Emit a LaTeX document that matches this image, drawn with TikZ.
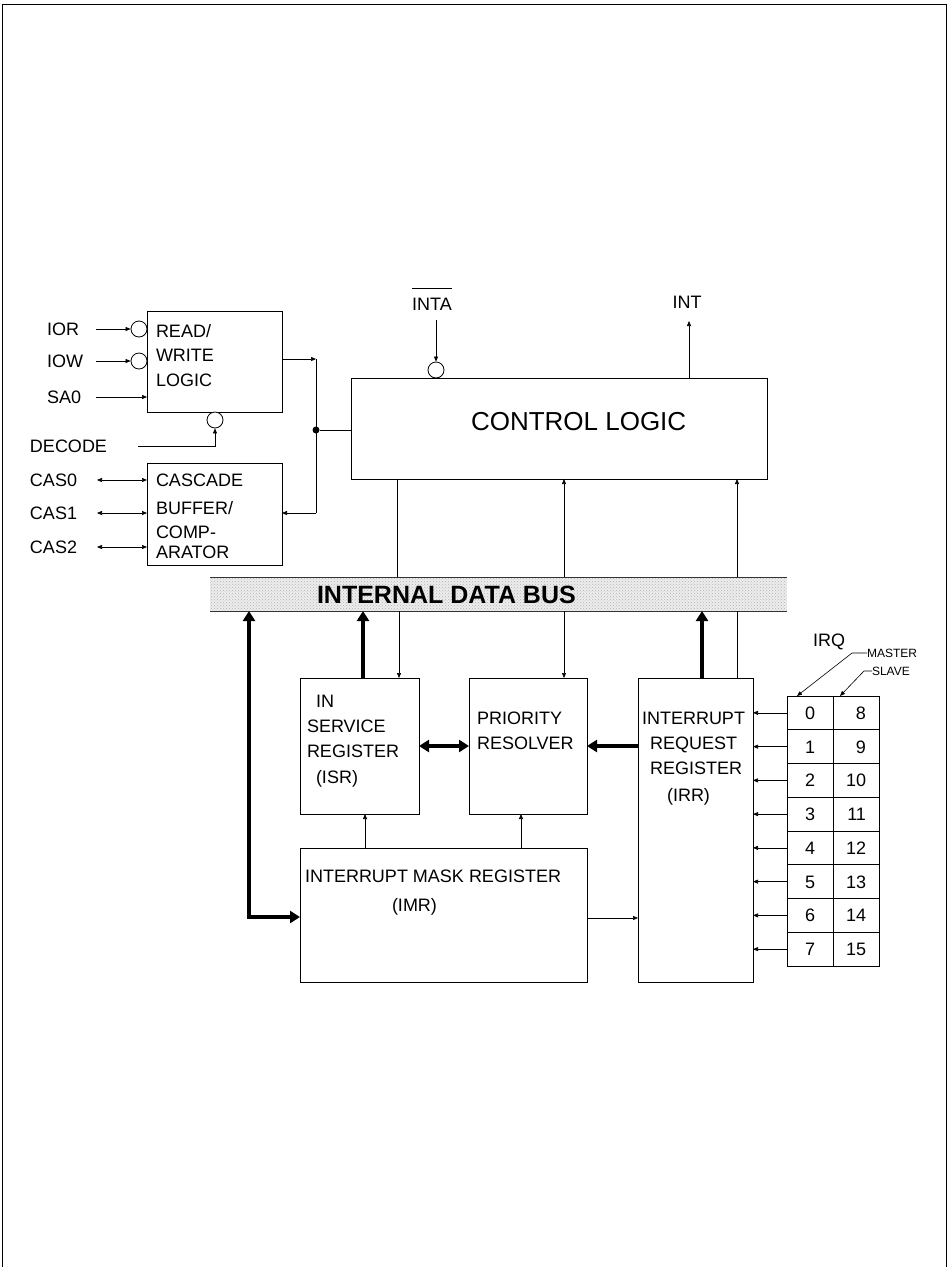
\documentclass[tikz,border=0pt]{standalone}
\usepackage{fontspec}
\setmainfont{Liberation Sans}
\usetikzlibrary{arrows.meta,patterns,calc}
\begin{document}
\begin{tikzpicture}[x=1pt,y=-1pt,
  lab/.style={inner sep=0pt, outer sep=0pt, anchor=west, font=\fontsize{18}{21}\selectfont, text height=12.9pt, text depth=0pt},
  big/.style={inner sep=0pt, outer sep=0pt, anchor=west, font=\fontsize{26}{30}\selectfont, text height=18.6pt, text depth=0pt},
  bustxt/.style={inner sep=0pt, outer sep=0pt, anchor=west, font=\fontsize{25}{30}\selectfont\bfseries, text height=17.9pt, text depth=0pt},
  small/.style={inner sep=0pt, outer sep=0pt, anchor=west, font=\fontsize{12}{14}\selectfont, text height=8.6pt, text depth=0pt},
  box/.style={draw, line width=0.8pt, inner sep=0pt, outer sep=0pt},
  ln/.style={line width=0.6pt},
  arr/.style={line width=0.6pt, -{Triangle[length=5pt,width=4pt]}},
  darr/.style={line width=0.6pt, {Triangle[length=5pt,width=4pt]}-{Triangle[length=5pt,width=4pt]}},
  tarr/.style={line width=4pt, -{Triangle[length=10pt,width=12pt]}},
  tdarr/.style={line width=4pt, {Triangle[length=10pt,width=12pt]}-{Triangle[length=10pt,width=12pt]}},
  bub/.style={circle, draw, line width=0.8pt, minimum size=16pt, inner sep=0pt, fill=white},
  cell/.style={draw, line width=0.8pt, minimum width=46pt, minimum height=33.75pt, inner sep=0pt, outer sep=0pt, font=\fontsize{18}{21}\selectfont, text height=12.9pt, text depth=0pt}
]
\useasboundingbox (0,0) rectangle (951,1267);
% page frame
\draw[line width=0.9pt] (2,1267) -- (2,4) -- (946,4) -- (946,1267);

% ---------------- boxes
\node[box, minimum width=135pt, minimum height=101pt] (rw) at (214.5,361.5) {};
\node[box, minimum width=135pt, minimum height=102pt] (cas) at (214.5,514) {};
\node[box, minimum width=416pt, minimum height=101pt] (ctl) at (559,428.5) {};
\node[box, minimum width=119pt, minimum height=136pt] (isr) at (359.5,746) {};
\node[box, minimum width=118pt, minimum height=136pt] (pr) at (528,746) {};
\node[box, minimum width=287pt, minimum height=134pt] (imr) at (443.5,915) {};
\node[box, minimum width=115pt, minimum height=304pt] (irr) at (695.5,830) {};

% internal data bus
\node[inner sep=0pt, outer sep=0pt, minimum width=577pt, minimum height=34pt,
      preaction={fill=gray!14}, pattern=crosshatch dots, pattern color=gray!60] (bus) at (498.5,594) {};
\draw[line width=0.8pt, gray!40!black] (bus.north west) -- (bus.north east);
\draw[line width=0.8pt, gray!40!black] (bus.south west) -- (bus.south east);
\node[bustxt] (bustext) at (317,595) {INTERNAL DATA BUS};

% ---------------- box texts
\node[lab] (rw1) at (156,331) {READ/};
\node[lab] (rw2) at (156,355) {WRITE};
\node[lab] (rw3) at (156,380) {LOGIC};
\node[lab] (cs1) at (156,480) {CASCADE};
\node[lab] (cs2) at (156,508) {BUFFER/};
\node[lab] (cs3) at (156,532) {COMP-};
\node[lab] (cs4) at (156,552) {ARATOR};
\node[big] (ctltext) at (471,421) {CONTROL LOGIC};
\node[lab] (is1) at (316,701) {IN};
\node[lab] (is2) at (307,726) {SERVICE};
\node[lab] (is3) at (307,751) {REGISTER};
\node[lab] (is4) at (316,777) {(ISR)};
\node[lab] (pr1) at (477,718) {PRIORITY};
\node[lab] (pr2) at (477,743) {RESOLVER};
\node[lab] (im1) at (305,876) {INTERRUPT MASK REGISTER};
\node[lab] (im2) at (392,905) {(IMR)};
\node[lab] (ir1) at (642,718) {INTERRUPT};
\node[lab] (ir2) at (650,743) {REQUEST};
\node[lab] (ir3) at (650,768) {REGISTER};
\node[lab] (ir4) at (667,795) {(IRR)};

% ---------------- left-side signals
\node[lab] (ior) at (47,329) {IOR};
\node[lab] (iow) at (47,361) {IOW};
\node[lab] (sa0) at (47,397) {SA0};
\node[lab] (dec) at (30,446) {DECODE};
\node[lab] (cas0) at (30,480) {CAS0};
\node[lab] (cas1) at (30,513) {CAS1};
\node[lab] (cas2) at (30,547) {CAS2};

\node[bub] (c1) at (139,329) {};
\node[bub] (c2) at (139,361) {};
\node[bub] (c3) at (215,420) {};

\coordinate (ior-s) at (96,329);
\coordinate (iow-s) at (96,361);
\coordinate (sa0-s) at (96,397);
\coordinate (dec-s) at (138,446);
\coordinate (cas0-s) at (97,480);
\coordinate (cas1-s) at (97,513);
\coordinate (cas2-s) at (97,547);

\draw[arr] (ior-s) -- (c1.west);
\draw[arr] (iow-s) -- (c2.west);
\draw[arr] (sa0-s) -- (sa0-s -| rw.west);
\draw[arr] (dec-s) -- (dec-s -| c3.south) -- (c3.south);
\draw[darr] (cas0-s) -- (cas0-s -| cas.west);
\draw[darr] (cas1-s) -- (cas1-s -| cas.west);
\draw[darr] (cas2-s) -- (cas2-s -| cas.west);

% junction between RW / cascade / control
\coordinate (j1) at (316,359);
\coordinate (j2) at (316,513);
\draw[arr] (rw.east |- j1) -- (j1);
\draw[ln] (j1) -- (j2);
\draw[arr] (j2) -- (j2 -| cas.east);
\node[circle, fill, inner sep=0pt, minimum size=7pt] (dot) at (316,430) {};
\draw[ln] (dot) -- (dot -| ctl.west);

% ---------------- INTA / INT
\node[lab, anchor=center] (inta) at (432,304) {INTA};
\draw[line width=0.8pt] ([yshift=9pt]inta.north west) -- ([yshift=9pt]inta.north east);
\node[bub] (c4) at (436,370) {};
\coordinate (inta-s) at (436,320);
\draw[arr] (inta-s) -- (c4.north);
\node[lab, anchor=center] (int) at (687,302) {INT};
\coordinate (int-e) at (689,321);
\draw[arr] (int-e |- ctl.north) -- (int-e);

% ---------------- vertical x positions
\coordinate (xa) at (249,0);
\coordinate (xb) at (363,0);
\coordinate (xc) at (399,0);
\coordinate (xd) at (564,0);
\coordinate (xe) at (702,0);
\coordinate (xf) at (737,0);
\coordinate (xg) at (397,0);
\coordinate (xh) at (365,0);
\coordinate (xi) at (521,0);

% control <-> bus
\draw[ln] (xg |- ctl.south) -- (xg |- bus.north);
\draw[arr] (xd |- bus.north) -- (xd |- ctl.south);
\draw[arr] (xf |- bus.north) -- (xf |- ctl.south);

% bus <-> lower blocks
\coordinate (ka) at (249,917);
\draw[tdarr] (xa |- bus.south) -- (ka) -- (ka -| imr.west);
\draw[tarr] (xb |- isr.north) -- (xb |- bus.south);
\draw[arr] (xc |- bus.south) -- (xc |- isr.north);
\draw[arr] (xd |- bus.south) -- (xd |- pr.north);
\draw[tarr] (xe |- irr.north) -- (xe |- bus.south);
\draw[ln] (xf |- irr.north) -- (xf |- bus.south);

% between blocks
\draw[tdarr] (isr.east) -- (pr.west);
\draw[tarr] (irr.west |- pr.east) -- (pr.east);
\draw[arr] (xh |- imr.north) -- (xh |- isr.south);
\draw[arr] (xi |- imr.north) -- (xi |- pr.south);
\coordinate (ym) at (0,918);
\draw[arr] (imr.east |- ym) -- (irr.west |- ym);

% ---------------- IRQ table
\foreach \i [evaluate=\i as \yy using 696+33.75*(\i+0.5), evaluate=\i as \s using int(\i+8)] in {0,...,7} {
  \node[cell] (m\i) at (810,\yy) {\i};
  \node[cell, text width=20pt, align=right] (s\i) at (856,\yy) {\s};
  \draw[arr] (m\i.west) -- (m\i.west -| irr.east);
}
\node[lab, anchor=center] (irq) at (829,640) {IRQ};
\node[small] (master) at (867,653) {MASTER};
\node[small] (slave) at (872,671) {SLAVE};
\coordinate (mt) at (797,696);
\coordinate (st) at (840,696);
\draw[arr] (master.west) -- ++(-15,0) -- (mt);
\draw[arr] (slave.west) -- ++(-8,0) -- (st);
\end{tikzpicture}
\end{document}
